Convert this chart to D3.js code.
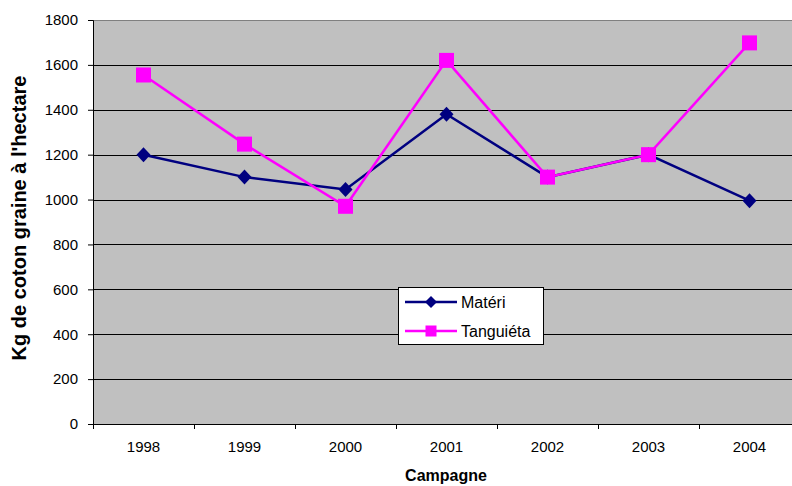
<!DOCTYPE html>
<html><head><meta charset="utf-8">
<script src="https://cdn.jsdelivr.net/npm/d3@7"></script>
<style>body{margin:0;background:#fff}svg{display:block;font-family:"Liberation Sans",Arial,sans-serif}</style>
</head><body><svg id="c" width="792" height="486"></svg>
<script>
const categories = ["1998","1999","2000","2001","2002","2003","2004"];
const materi = [1200,1100,1045,1380,1100,1200,995];
const tanguieta = [1555,1247,970,1620,1100,1200,1698];
const yTicks = [0,200,400,600,800,1000,1200,1400,1600,1800];
const seriesNames = ["Matéri","Tanguiéta"];

const svg = d3.select("#c");
const L=93, T=20, R=800, B=424;
const x = d3.scaleBand().domain(categories).range([L,R]);
const y = d3.scaleLinear().domain([0,1800]).range([B,T]);
const FF = "Liberation Sans, Arial, sans-serif";

svg.append("rect").attr("x",L).attr("y",T).attr("width",R-L).attr("height",B-T).attr("fill","#c0c0c0");
svg.append("line").attr("x1",L).attr("x2",R).attr("y1",T+0.5).attr("y2",T+0.5).attr("stroke","#808080").attr("stroke-width",1);
svg.append("g").selectAll("line").data(yTicks.filter(d=>d>0&&d<1800)).join("line")
  .attr("x1",L).attr("x2",R).attr("y1",d=>Math.round(y(d))+0.5).attr("y2",d=>Math.round(y(d))+0.5)
  .attr("stroke","#000").attr("stroke-width",1);

const ya = svg.append("g").attr("transform",`translate(${L},0)`)
  .call(d3.axisLeft(y).tickValues(yTicks).tickFormat(d3.format("d")).tickSize(5).tickPadding(10));
ya.select(".domain").attr("stroke","#000");
ya.selectAll("text").style("font-size","15px").attr("fill","#000").style("font-family",FF);

const xa = svg.append("g").attr("transform",`translate(0,${B})`)
  .call(d3.axisBottom(x).tickSize(0).tickPadding(17));
xa.select(".domain").remove();
xa.selectAll("text").style("font-size","15px").attr("fill","#000").style("font-family",FF);
svg.append("line").attr("x1",L).attr("x2",R).attr("y1",B+0.5).attr("y2",B+0.5).attr("stroke","#000");
const bounds = categories.map(c=>x(c)).concat([R]);
svg.append("g").selectAll("line").data(bounds).join("line")
  .attr("x1",d=>Math.round(d)+0.5).attr("x2",d=>Math.round(d)+0.5).attr("y1",B).attr("y2",B+5).attr("stroke","#000");

const cx = c => x(c)+x.bandwidth()/2;
const line = d3.line().x((d,i)=>cx(categories[i])).y(d=>y(d));
const cols = ["#000080","#ff00ff"];

svg.append("path").datum(materi).attr("d",line).attr("fill","none").attr("stroke",cols[0]).attr("stroke-width",2.5);
svg.append("path").datum(tanguieta).attr("d",line).attr("fill","none").attr("stroke",cols[1]).attr("stroke-width",2.5);

const diamondPath = (w,h) => `M0,${-h}L${w},0L0,${h}L${-w},0Z`;
svg.append("g").selectAll("path").data(materi).join("path")
  .attr("d",diamondPath(7,7.5)).attr("transform",(d,i)=>`translate(${cx(categories[i])},${y(d)})`).attr("fill",cols[0]);
svg.append("g").selectAll("rect").data(tanguieta).join("rect")
  .attr("x",(d,i)=>cx(categories[i])-7.5).attr("y",d=>y(d)-7.5).attr("width",15).attr("height",15).attr("fill",cols[1]);

// legend
const lg = svg.append("g");
lg.append("rect").attr("x",398.5).attr("y",287.5).attr("width",145).attr("height",57).attr("fill","#fff").attr("stroke","#000");
seriesNames.forEach((n,i)=>{
  const ly = 302 + i*29;
  lg.append("line").attr("x1",405).attr("x2",457).attr("y1",ly).attr("y2",ly).attr("stroke",cols[i]).attr("stroke-width",2.5);
  if(i===0) lg.append("path").attr("d",diamondPath(6,6)).attr("transform",`translate(431,${ly})`).attr("fill",cols[0]);
  else lg.append("rect").attr("x",425.5).attr("y",ly-5.5).attr("width",11).attr("height",11).attr("fill",cols[1]);
  lg.append("text").attr("x",461).attr("y",ly+6).style("font-size","16px").attr("fill","#000").text(n);
});

svg.append("text").attr("transform","translate(26,218) rotate(-90)").attr("text-anchor","middle")
  .style("font-size","20px").attr("font-weight","bold").text("Kg de coton graine à l'hectare");
svg.append("text").attr("x",446).attr("y",481).attr("text-anchor","middle")
  .style("font-size","16px").attr("font-weight","bold").text("Campagne");
</script></body></html>
